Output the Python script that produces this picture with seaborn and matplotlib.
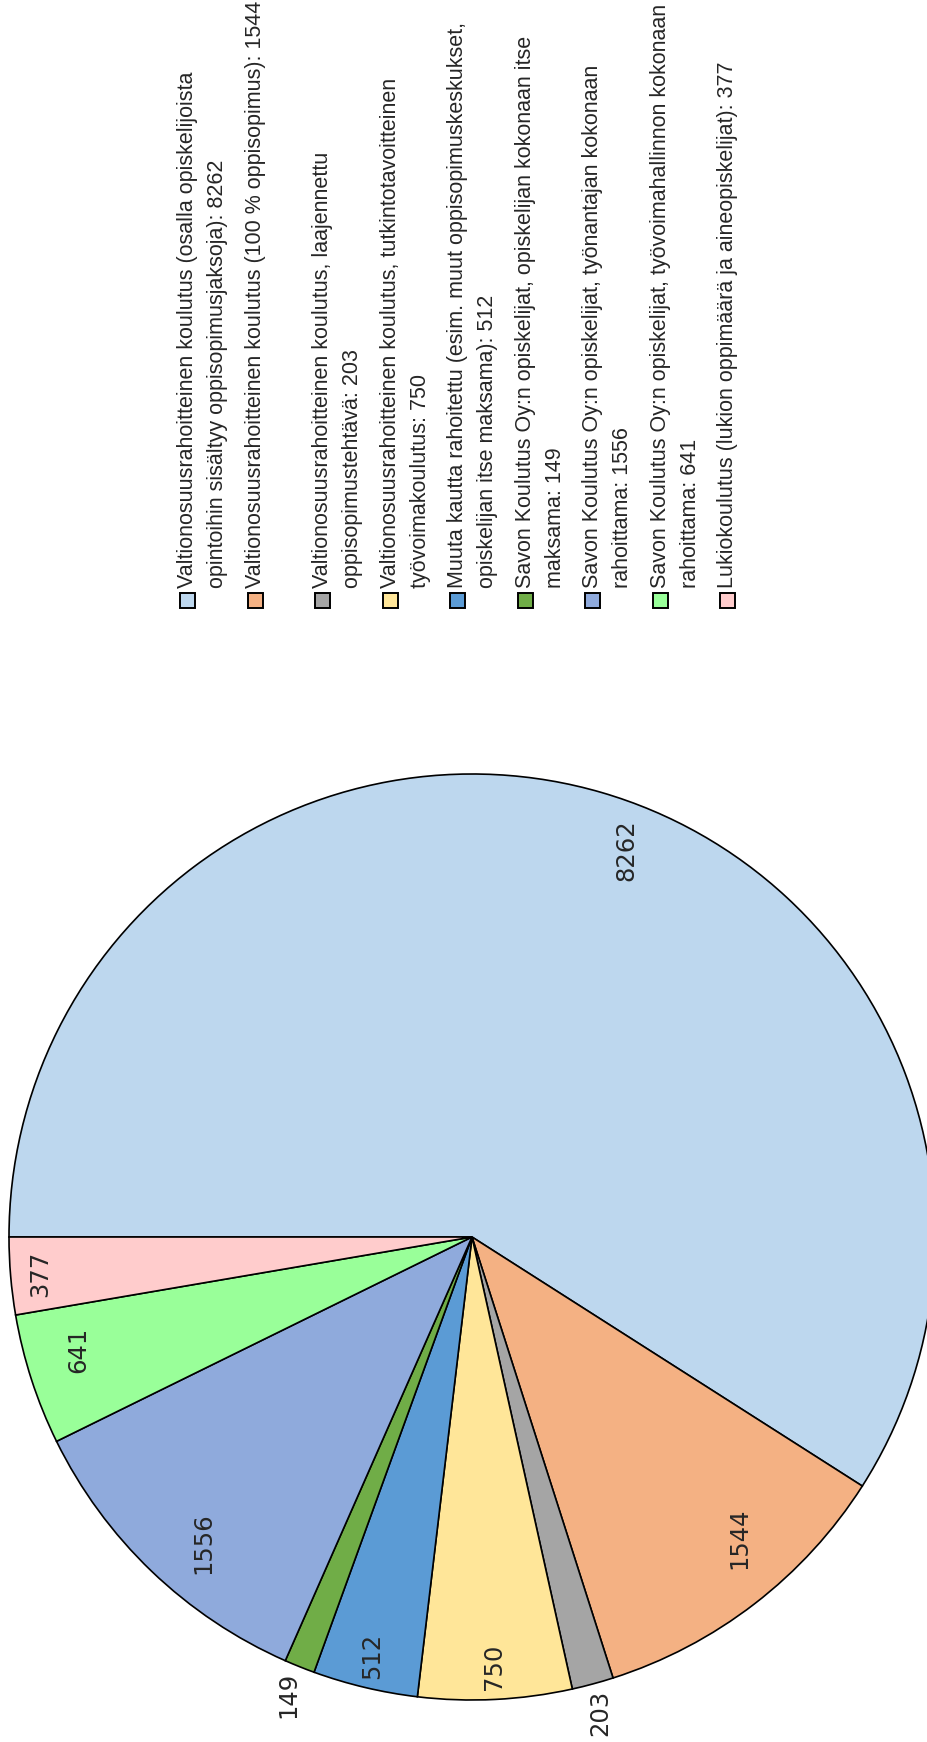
import numpy as np
import pandas as pd
from matplotlib import pyplot as plt
from matplotlib.patches import Rectangle
import seaborn as sns

# pie data (clockwise from the left edge)
categories = [
    "Valtionosuusrahoitteinen koulutus (osalla opiskelijoista\nopintoihin sisältyy oppisopimusjaksoja)",
    "Valtionosuusrahoitteinen koulutus (100 % oppisopimus)",
    "Valtionosuusrahoitteinen koulutus, laajennettu\noppisopimustehtävä",
    "Valtionosuusrahoitteinen koulutus, tutkintotavoitteinen\ntyövoimakoulutus",
    "Muuta kautta rahoitettu (esim. muut oppisopimuskeskukset,\nopiskelijan itse maksama)",
    "Savon Koulutus Oy:n opiskelijat, opiskelijan kokonaan itse\nmaksama",
    "Savon Koulutus Oy:n opiskelijat, työnantajan kokonaan\nrahoittama",
    "Savon Koulutus Oy:n opiskelijat, työvoimahallinnon kokonaan\nrahoittama",
    "Lukiokoulutus (lukion oppimäärä ja aineopiskelijat)",
]
values = [8262, 1544, 203, 750, 512, 149, 1556, 641, 377]
colors = ["#BDD7EE", "#F4B183", "#A5A5A5", "#FFE699", "#5B9BD5",
          "#70AD47", "#8FAADC", "#99FF99", "#FFCCCC"]
# value label placement: fraction of radius, and angle nudge (deg) from slice middle
label_dist = [0.90, 0.87, 1.065, 0.93, 0.93, 1.065, 0.88, 0.885, 0.935]
label_nudge = [-5.5, 4, 0, 0, 0, 0, 2.5, -2, 0]

df = pd.DataFrame({"cat": categories, "val": values, "col": colors})

sns.set_theme(style="white")
plt.rcParams['font.family'] = ['DejaVu Sans']

W, H = 927, 1742
fig = plt.figure(figsize=(W / 100, H / 100), dpi=100)
ax = fig.add_axes([0, 0, 1, 1])

cx, cy, R = 472, H - 1237, 463
wedges, _ = ax.pie(df["val"], colors=df["col"], startangle=180, counterclock=False,
                   center=(cx, cy), radius=R,
                   wedgeprops=dict(edgecolor="black", linewidth=1.2))
ax.set_xlim(0, W)
ax.set_ylim(0, H)
ax.set_aspect('equal')
ax.axis('off')

for w, v, d, nd in zip(wedges, df["val"], label_dist, label_nudge):
    ang = np.deg2rad((w.theta1 + w.theta2) / 2 + nd)
    ax.text(cx + d * R * np.cos(ang), cy + d * R * np.sin(ang), str(v),
            rotation=90, rotation_mode='anchor', ha='center', va='center',
            fontsize=17.5, color="#262626")

# legend, rotated like the rest of the chart
leg_font = ['Liberation Sans Narrow', 'Liberation Sans', 'DejaVu Sans']
x0, step, line_gap = 188, 67.5, 30
mark_y, text_y, msz = H - 601, H - 588, 15
for i, (cat, v, c) in enumerate(zip(df["cat"], df["val"], df["col"])):
    x = x0 + i * step
    ax.add_patch(Rectangle((x - msz / 2, mark_y - msz / 2), msz, msz,
                           facecolor=c, edgecolor="black", linewidth=1.4))
    lines = (cat + ": " + str(v)).split("\n")
    for j, ln in enumerate(lines):
        ax.text(x + j * line_gap, text_y, ln, rotation=90, rotation_mode='anchor',
                ha='left', va='center', fontsize=15.5, color="#262626",
                family=leg_font)

fig.savefig('out.png', dpi=100)
